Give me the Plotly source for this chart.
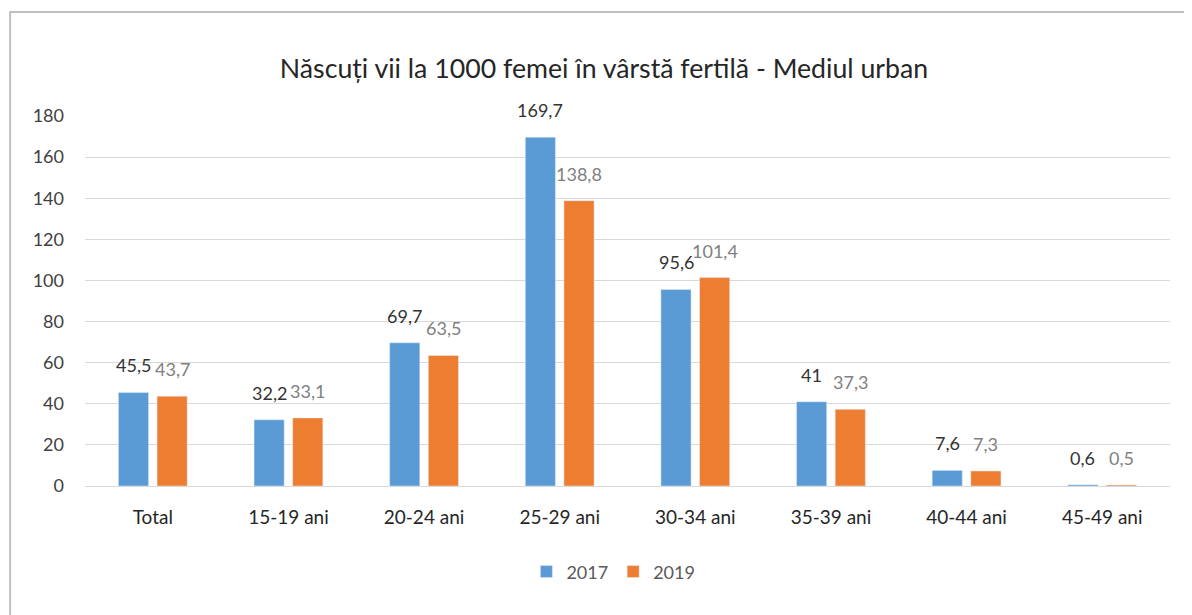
import plotly.graph_objects as go

categories = ["Total", "15-19 ani", "20-24 ani", "25-29 ani", "30-34 ani",
              "35-39 ani", "40-44 ani", "45-49 ani"]
values_2017 = [45.5, 32.2, 69.7, 169.7, 95.6, 41, 7.6, 0.6]
values_2019 = [43.7, 33.1, 63.5, 138.8, 101.4, 37.3, 7.3, 0.5]
y_ticks = [0, 20, 40, 60, 80, 100, 120, 140, 160, 180]


def ro(v):
    # romanian decimal comma
    return f"{v:g}".replace(".", ",")


FONT = "Lato, Open Sans, sans-serif"

fig = go.Figure()
fig.add_trace(go.Bar(name="2017", x=categories, y=values_2017, marker_color="#5B9BD5"))
fig.add_trace(go.Bar(name="2019", x=categories, y=values_2019, marker_color="#ED7D31"))

# data labels, sitting a bit higher above the bars than plotly's own text
for vals, shift, color in [(values_2017, -19.3, "#333333"), (values_2019, 19.3, "#808080")]:
    for cat, v in zip(categories, vals):
        fig.add_annotation(x=cat, y=v, text=ro(v), showarrow=False,
                           xshift=shift, yshift=14, yanchor="bottom",
                           font=dict(size=18, color=color, family=FONT))

fig.update_layout(
    width=1192, height=615,
    margin=dict(l=77, r=30, t=108, b=137),
    paper_bgcolor="white", plot_bgcolor="white",
    barmode="group", bargap=0.43, bargroupgap=0.22,
    font=dict(family=FONT, size=18, color="#404040"),
    title=dict(text="Născuți vii la 1000 femei în vârstă fertilă - Mediul urban",
               x=0.5, xanchor="center", y=0.902, yanchor="middle",
               font=dict(size=26.7, color="#262626", family=FONT)),
    legend=dict(orientation="h", x=0.487, xanchor="center", y=-0.232, yanchor="middle",
                itemwidth=30, font=dict(size=18, color="#595959")),
)
fig.update_yaxes(range=[0, 180], tickvals=y_ticks, showgrid=True, gridcolor="#D9D9D9",
                 gridwidth=1, zeroline=False, showline=False, ticks="",
                 tickfont=dict(size=18, color="#404040"), ticklabelstandoff=20)
fig.update_xaxes(showline=True, linecolor="#D9D9D9", ticks="",
                 tickfont=dict(size=19, color="#262626"), ticklabelstandoff=14)

# frame around the chart like the screenshot
fig.add_shape(type="rect", xref="paper", yref="paper",
              x0=-0.069, x1=1.2, y0=-0.4, y1=1.281,
              line=dict(color="#BFBFBF", width=2), layer="below")

fig.write_html("out.html")
